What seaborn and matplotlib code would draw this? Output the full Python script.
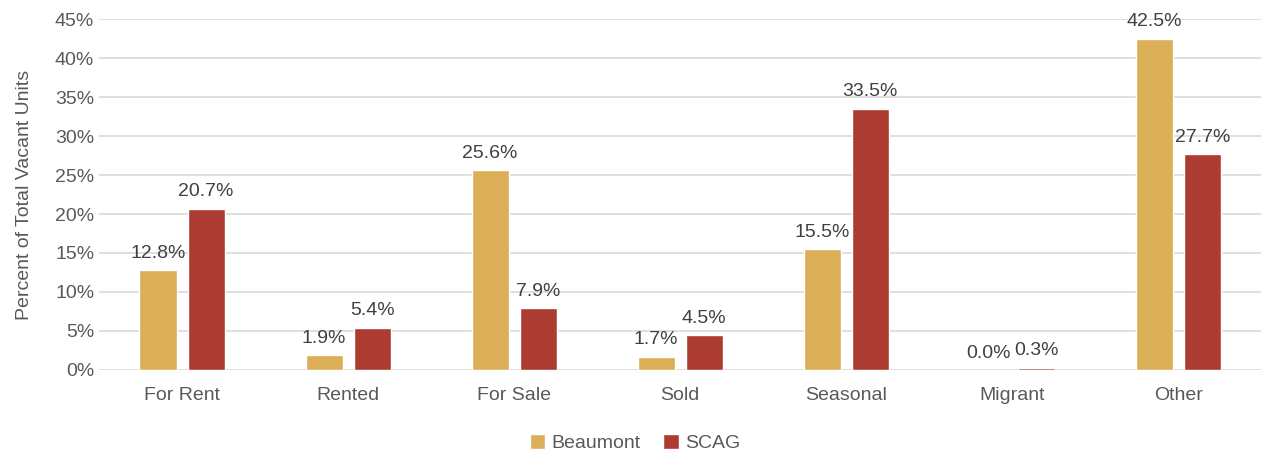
import matplotlib
matplotlib.use("Agg")
import matplotlib.pyplot as plt
import matplotlib.ticker as mticker
import pandas as pd
import seaborn as sns

categories = ["For Rent", "Rented", "For Sale", "Sold", "Seasonal", "Migrant", "Other"]
beaumont = [12.8, 1.9, 25.6, 1.7, 15.5, 0.0, 42.5]
scag = [20.7, 5.4, 7.9, 4.5, 33.5, 0.3, 27.7]
series_names = ["Beaumont", "SCAG"]
colors = ["#DBAE58", "#AC3C31"]

df = pd.DataFrame({
    "category": categories * 2,
    "series": [series_names[0]] * len(categories) + [series_names[1]] * len(categories),
    "value": beaumont + scag,
})

sns.set_theme(style="white")
plt.rcParams["font.family"] = ["Liberation Sans", "DejaVu Sans"]

fig = plt.figure(figsize=(12.62, 4.55), dpi=100)
ax = fig.add_axes([0.0785, 0.187, 0.921, 0.771])

sns.barplot(data=df, x="category", y="value", hue="series", order=categories,
            hue_order=series_names, palette=colors, width=0.58, gap=0.23,
            saturation=1, ax=ax, zorder=3)

for cont in ax.containers:
    ax.bar_label(cont, labels=[f"{v:.1f}%" for v in cont.datavalues], padding=6,
                 fontsize=14, color="#404040")

ax.set_ylim(0, 45)
ax.set_xlim(-0.5, len(categories) - 0.5)
ax.yaxis.set_major_locator(mticker.MultipleLocator(5))
ax.yaxis.set_major_formatter(mticker.FuncFormatter(lambda v, p: f"{v:.0f}%"))
ax.grid(axis="y", color="#D9D9D9", linewidth=1.2, zorder=0)
for s in ax.spines.values():
    s.set_visible(False)
ax.tick_params(axis="both", length=0, labelsize=14, labelcolor="#595959")
ax.tick_params(axis="x", pad=12)
ax.set_xlabel("")
ax.set_ylabel("Percent of Total Vacant Units", fontsize=14, color="#595959", labelpad=16)

ax.legend(loc="upper center", bbox_to_anchor=(0.503, 0.085), bbox_transform=fig.transFigure,
          ncol=2, frameon=False, fontsize=14, handlelength=0.8, handleheight=0.8,
          handletextpad=0.3, columnspacing=1.2, labelcolor="#595959")

fig.savefig("out.png", dpi=100)
